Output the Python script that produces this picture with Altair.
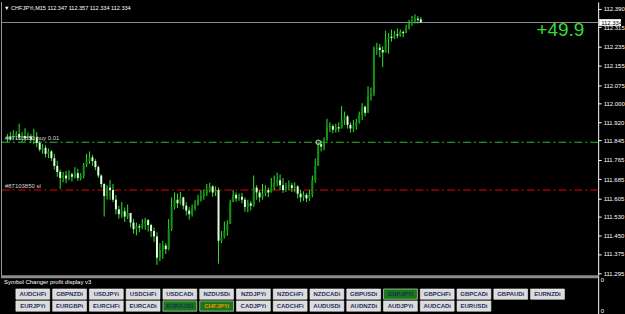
import altair as alt
import pandas as pd
import numpy as np

# ---------------- data ----------------
closes = [
    111.860, 111.852, 111.866, 111.872, 111.858, 111.864, 111.855, 111.862, 111.848, 111.858,
    111.835, 111.808, 111.815, 111.790, 111.800, 111.772, 111.740, 111.715, 111.690, 111.700,
    111.688, 111.705, 111.695, 111.710, 111.690, 111.698, 111.745, 111.760, 111.775, 111.760,
    111.735, 111.700, 111.665, 111.615, 111.650, 111.640, 111.600, 111.560, 111.540, 111.552,
    111.530, 111.545, 111.505, 111.478, 111.490, 111.485, 111.500, 111.515, 111.495, 111.470,
    111.448, 111.360, 111.390, 111.410, 111.395, 111.480, 111.570, 111.600, 111.585, 111.610,
    111.575, 111.555, 111.540, 111.565, 111.580, 111.600, 111.615, 111.625, 111.640, 111.655,
    111.630, 111.640, 111.430, 111.445, 111.470, 111.500, 111.590, 111.620, 111.605, 111.612,
    111.600, 111.570, 111.585, 111.575, 111.650, 111.630, 111.610, 111.625, 111.640, 111.630,
    111.650, 111.670, 111.680, 111.660, 111.640, 111.655, 111.660, 111.648, 111.655, 111.625,
    111.610, 111.620, 111.605, 111.620, 111.680, 111.740, 111.830, 111.820, 111.845, 111.900,
    111.905, 111.890, 111.900, 111.895, 111.930, 111.945, 111.910, 111.895, 111.905, 111.920,
    111.950, 111.985, 111.960, 112.030, 112.040, 112.225, 112.230, 112.220, 112.210, 112.265,
    112.275, 112.270, 112.285, 112.280, 112.295, 112.290, 112.310, 112.330, 112.340, 112.350,
    112.345, 112.334,
]
highs = [
    111.872, 111.880, 111.888, 111.884, 111.915, 111.880, 111.896, 111.878, 111.872, 111.894,
    111.880, 111.845, 111.830, 111.825, 111.812, 111.805, 111.790, 111.760, 111.725, 111.715,
    111.720, 111.722, 111.712, 111.735, 111.728, 111.710, 111.752, 111.790, 111.800, 111.785,
    111.768, 111.742, 111.705, 111.668, 111.660, 111.682, 111.665, 111.620, 111.575, 111.590,
    111.568, 111.580, 111.540, 111.520, 111.505, 111.500, 111.520, 111.525, 111.520, 111.500,
    111.485, 111.465, 111.420, 111.430, 111.420, 111.520, 111.610, 111.630, 111.625, 111.632,
    111.612, 111.590, 111.570, 111.580, 111.598, 111.620, 111.640, 111.642, 111.665, 111.670,
    111.660, 111.655, 111.650, 111.470, 111.510, 111.515, 111.600, 111.640, 111.630, 111.625,
    111.628, 111.610, 111.600, 111.595, 111.700, 111.660, 111.640, 111.665, 111.660, 111.650,
    111.690, 111.700, 111.712, 111.705, 111.690, 111.670, 111.680, 111.670, 111.672, 111.660,
    111.640, 111.635, 111.628, 111.640, 111.700, 111.770, 111.840, 111.845, 111.858, 111.935,
    111.920, 111.912, 111.915, 111.920, 111.988, 111.965, 111.950, 111.920, 111.930, 111.935,
    111.965, 112.000, 111.990, 112.070, 112.065, 112.235, 112.250, 112.245, 112.235, 112.300,
    112.290, 112.305, 112.300, 112.310, 112.305, 112.300, 112.325, 112.345, 112.362, 112.368,
    112.360, 112.357,
]
lows = [
    111.838, 111.845, 111.846, 111.850, 111.846, 111.840, 111.842, 111.848, 111.836, 111.830,
    111.818, 111.800, 111.790, 111.775, 111.772, 111.760, 111.725, 111.695, 111.645, 111.672,
    111.668, 111.680, 111.675, 111.688, 111.678, 111.680, 111.688, 111.735, 111.748, 111.740,
    111.722, 111.690, 111.650, 111.530, 111.600, 111.600, 111.590, 111.540, 111.522, 111.525,
    111.508, 111.520, 111.485, 111.460, 111.452, 111.465, 111.478, 111.475, 111.468, 111.445,
    111.425, 111.330, 111.345, 111.355, 111.375, 111.390, 111.470, 111.560, 111.565, 111.580,
    111.560, 111.535, 111.518, 111.530, 111.555, 111.575, 111.592, 111.600, 111.615, 111.630,
    111.612, 111.615, 111.335, 111.420, 111.440, 111.450, 111.500, 111.590, 111.592, 111.595,
    111.585, 111.550, 111.548, 111.555, 111.570, 111.600, 111.590, 111.600, 111.615, 111.610,
    111.630, 111.640, 111.655, 111.640, 111.628, 111.632, 111.640, 111.632, 111.630, 111.605,
    111.590, 111.595, 111.590, 111.595, 111.610, 111.670, 111.740, 111.800, 111.805, 111.850,
    111.880, 111.876, 111.878, 111.880, 111.895, 111.910, 111.895, 111.878, 111.880, 111.890,
    111.915, 111.930, 111.945, 111.990, 112.010, 112.030, 112.200, 112.190, 112.150, 112.240,
    112.205, 112.255, 112.265, 112.268, 112.275, 112.272, 112.290, 112.305, 112.320, 112.330,
    112.330, 112.334,
]
first_open = 111.850
last_open = 112.347

tick_values = [112.390, 112.315, 112.235, 112.155, 112.075, 112.000, 111.920, 111.845,
               111.765, 111.685, 111.605, 111.530, 111.450, 111.375, 111.295]

buy_price = 111.838
sl_price = 111.640
bid_price = 112.334
entry_bar = 106

header = "\u25BC CHFJPYi,M15  112.347 112.357 112.334 112.334"
profit_text = "+49.9"
buy_label = "#87103850 buy 0.01"
sl_label = "#87103850 sl"

row1 = ["AUDCHFi", "GBPNZDi", "USDJPYi", "USDCHFi", "USDCADi", "NZDUSDi", "NZDJPYi", "NZDCHFi",
        "NZDCADi", "GBPUSDi", "GBPJPYi", "GBPCHFi", "GBPCADi", "GBPAUDi", "EURNZDi"]
row2 = ["EURJPYi", "EURGBPi", "EURCHFi", "EURCADi", "EURAUDi", "CHFJPYi", "CADJPYi", "CADCHFi",
        "AUDUSDi", "AUDNZDi", "AUDJPYi", "AUDCADi", "EURUSDi"]
open_trades = ["GBPJPYi", "EURAUDi", "CHFJPYi"]
current_symbol = "CHFJPYi"

# ---------------- tables ----------------
opens = [first_open] + closes[:-1]
opens[-1] = last_open
df = pd.DataFrame({"i": np.arange(len(closes)), "open": opens, "high": highs,
                   "low": lows, "close": closes})
df["high"] = df[["high", "open", "close"]].max(axis=1)
df["low"] = df[["low", "open", "close"]].min(axis=1)
df["dir"] = np.where(df["close"] >= df["open"], "bull", "bear")

W, H = 601, 275
FONT = "Liberation Sans"

xsc = alt.Scale(domain=[-0.5, 199.8], nice=False, zero=False)
ysc = alt.Scale(domain=[111.287, 112.419], nice=False, zero=False)
yax = alt.Axis(orient="right", values=tick_values, format=".3f", labelColor="#FFFFFF",
               labelFont=FONT, labelFontSize=6, tickColor="#FFFFFF", tickSize=3,
               domainColor="#FFFFFF", grid=False, title=None, labelPadding=2,
               labelOverlap=False, labelFlush=False)


def Y(field):
    return alt.Y(field, scale=ysc, axis=yax)


X = alt.X("i:Q", scale=xsc, axis=None)

wicks = alt.Chart(df).mark_rule(color="#2EE62E", strokeWidth=1).encode(
    x=X, y=Y("low:Q"), y2="high:Q")
bodies = alt.Chart(df).mark_bar(size=2).encode(
    x=X, y=Y("open:Q"), y2="close:Q",
    color=alt.Color("dir:N", scale=alt.Scale(domain=["bull", "bear"],
                                              range=["#0E960E", "#E2FFE2"]), legend=None),
)

lev = pd.DataFrame({"p": [buy_price, sl_price, bid_price], "k": ["buy", "sl", "bid"]})
green_line = alt.Chart(lev[lev.k == "buy"]).mark_rule(
    color="#2DBE2D", strokeDash=[8, 3, 2, 3], strokeWidth=1).encode(y=Y("p:Q"))
red_line = alt.Chart(lev[lev.k == "sl"]).mark_rule(
    color="#9A0000", strokeDash=[8, 3, 2, 3], strokeWidth=1.5).encode(y=Y("p:Q"))
bid_line = alt.Chart(lev[lev.k == "bid"]).mark_rule(color="#8A8A8A", strokeWidth=1).encode(
    y=Y("p:Q"))

labels = pd.DataFrame({"p": [buy_price, sl_price], "t": [buy_label, sl_label]})
level_text = alt.Chart(labels).mark_text(
    align="left", baseline="bottom", dy=-1, font=FONT, fontSize=6, color="#D8D8D8").encode(
    x=alt.value(4), y=Y("p:Q"), text="t:N")

entry = pd.DataFrame({"i": [entry_bar], "p": [buy_price]})
entry_pt = alt.Chart(entry).mark_point(shape="circle", filled=False, color="#E8E8E8",
                                       size=18, strokeWidth=1.2).encode(x=X, y=Y("p:Q"))

profit = alt.Chart(pd.DataFrame({"t": [profit_text]})).mark_text(
    align="right", baseline="alphabetic", font=FONT, fontSize=19, color="#33DD33").encode(
    x=alt.value(587), y=alt.value(34), text="t:N")

head = alt.Chart(pd.DataFrame({"t": [header]})).mark_text(
    align="left", baseline="alphabetic", font=FONT, fontSize=5.6, color="#FFFFFF").encode(
    x=alt.value(3), y=alt.value(8), text="t:N")

box_df = pd.DataFrame({"p": [bid_price], "t": [f"{bid_price:.3f}"]})
box_df["p1"] = box_df["p"] + 0.014
box_df["p2"] = box_df["p"] - 0.014
price_box = alt.Chart(box_df).mark_rect(color="#FFFFFF").encode(
    x=alt.value(602), x2=alt.value(624), y=Y("p1:Q"), y2="p2:Q")
price_box_text = alt.Chart(box_df).mark_text(
    align="left", baseline="middle", font=FONT, fontSize=6, color="#000000").encode(
    x=alt.value(604), y=Y("p:Q"), text="t:N")

left_edge = alt.Chart(pd.DataFrame({"a": [0]})).mark_rule(color="#9A9A9A").encode(
    x=alt.value(0.5), y=alt.value(0), y2=alt.value(H))

main = alt.layer(
    green_line, red_line, bid_line, wicks, bodies, entry_pt, level_text,
    profit, head, price_box, price_box_text, left_edge
).properties(width=W, height=H)

# ---------------- bottom indicator panel ----------------
rows = []
for r, names in enumerate([row1, row2]):
    for c, n in enumerate(names):
        active = n in open_trades
        rows.append({"col": c, "row": r, "name": n,
                     "fill": "#157A15" if active else "#DCDCDC",
                     "tc": "#FF8C00" if n == current_symbol else "#1C2F5C"})
bt = pd.DataFrame(rows)
HB = 39
bxs = alt.Scale(domain=[-0.865, 15.378], nice=False, zero=False)
bys = alt.Scale(domain=[-1.583, 1.667], nice=False, zero=False, reverse=True)
bax = alt.Axis(orient="right", values=[-1.2, 1.35], labelExpr="'0'", labelColor="#FFFFFF",
               labelFont=FONT, labelFontSize=6, ticks=False, domainColor="#FFFFFF",
               grid=False, title=None, labelPadding=2)
BX = alt.X("col:Q", scale=bxs, axis=None)

btn = alt.Chart(bt).transform_calculate(
    x1="datum.col - 0.46", x2="datum.col + 0.46",
    y1="datum.row - 0.43", y2="datum.row + 0.43"
).mark_rect(stroke="#F4F4F4", strokeWidth=0.6).encode(
    x=alt.X("x1:Q", scale=bxs, axis=None), x2="x2:Q",
    y=alt.Y("y1:Q", scale=bys, axis=bax), y2="y2:Q",
    fill=alt.Fill("fill:N", scale=None),
)
btn_text = alt.Chart(bt).mark_text(font=FONT, fontSize=6, fontWeight="bold",
                                    baseline="middle").encode(
    x=BX, y=alt.Y("row:Q", scale=bys, axis=bax),
    text="name:N", color=alt.Color("tc:N", scale=None),
)
sep = alt.Chart(pd.DataFrame({"a": [0]})).mark_rect(color="#8C8C8C").encode(
    x=alt.value(0), x2=alt.value(W), y=alt.value(0), y2=alt.value(3))
ind_title = alt.Chart(pd.DataFrame({"t": ["Symbol Changer profit display v3"]})).mark_text(
    align="left", baseline="alphabetic", font=FONT, fontSize=6, color="#FFFFFF").encode(
    x=alt.value(3), y=alt.value(9), text="t:N")

bottom = alt.layer(btn, btn_text, sep, ind_title).properties(width=W, height=HB)

chart = alt.vconcat(main, bottom, spacing=0).properties(
    background="#000000", padding=0, bounds="flush"
).configure_view(stroke=None)

chart.save("out.html", embed_options={"renderer": "svg", "actions": False})
